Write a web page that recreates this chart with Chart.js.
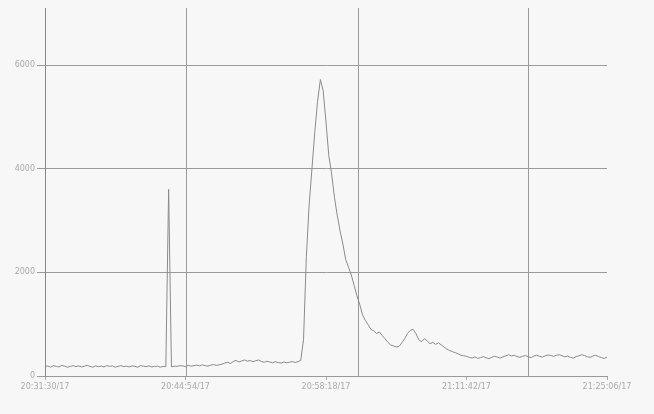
<!DOCTYPE html>
<html>
<head>
<meta charset="utf-8">
<script src="https://cdn.jsdelivr.net/npm/chart.js@4.4.1/dist/chart.umd.min.js"></script>
<style>
  html, body { margin: 0; padding: 0; background: #f7f7f7; }
  #wrap { width: 654px; height: 414px; }
</style>
</head>
<body>
<div id="wrap"><canvas id="trace"></canvas></div>
<script>
// sample index -> reading
const values = [
  180,195,170,200,185,175,205,190,170,185,
  200,180,195,175,190,205,185,170,195,180,
  190,175,200,185,195,170,185,200,180,190,
  175,195,185,170,200,190,180,195,175,185,
  190,170,185,180,
  3600,
  175,190,185,200,195,180,205,190,200,210,
  195,215,200,190,210,220,205,215,230,250,
  265,240,280,300,270,290,310,285,300,275,
  295,310,280,265,285,270,255,275,260,250,
  270,255,265,280,260,275,
  300,700,2300,3300,4000,4700,5300,5720,5500,4900,
  4250,3900,3450,3100,2800,2550,2250,2100,1950,1750,
  1550,1380,1180,1070,990,900,870,820,850,780,
  720,650,600,580,560,570,640,720,820,880,
  900,820,700,660,720,680,620,650,610,640,
  600,560,520,490,470,450,430,400,390,380,
  360,345,370,340,355,375,350,335,360,380,
  365,345,370,390,410,385,400,375,360,380,
  395,370,355,385,400,380,365,390,405,395,
  380,400,410,390,370,385,360,345,375,390,
  410,395,370,360,385,400,375,355,340,365
];

const xLabels = ["20:31:30/17", "20:44:54/17", "20:58:18/17", "21:11:42/17", "21:25:06/17"];
const xLabelPos = [0, 50, 100, 150, 200];
const gridX = [50.5, 111.4, 172.2];
const yTicks = [0, 2000, 4000, 6000];

const points = values.map((v, i) => ({ x: i, y: v }));

const ctx = document.getElementById('trace').getContext('2d');
new Chart(ctx, {
  type: 'line',
  data: {
    datasets: [{
      data: points,
      borderColor: '#8a8a8a',
      borderWidth: 1,
      pointRadius: 0,
      tension: 0,
      fill: false
    }]
  },
  options: {
    responsive: true,
    maintainAspectRatio: false,
    animation: false,
    layout: { padding: { left: 5, right: 47, top: 8, bottom: 6 } },
    plugins: { legend: { display: false }, tooltip: { enabled: false } },
    scales: {
      x: {
        type: 'linear',
        min: 0,
        max: 200,
        afterBuildTicks: s => { s.ticks = xLabelPos.map(v => ({ value: v })); },
        afterFit: s => { s.height = 32; },
        grid: { drawOnChartArea: false, drawTicks: true, tickLength: 4, color: '#aaa' },
        border: { display: true, color: '#999' },
        ticks: {
          autoSkip: false,
          maxRotation: 0,
          padding: 2,
          color: '#aaa',
          font: { family: 'DejaVu Sans', size: 8 },
          callback: v => xLabels[xLabelPos.indexOf(v)]
        }
      },
      xg: {
        type: 'linear',
        position: 'bottom',
        min: 0,
        max: 200,
        afterBuildTicks: s => { s.ticks = gridX.map(v => ({ value: v })); },
        afterFit: s => { s.height = 0; },
        grid: { color: '#9a9a9a', drawTicks: false },
        border: { display: false },
        ticks: { display: false }
      },
      y: {
        min: 0,
        max: 7100,
        afterBuildTicks: s => { s.ticks = yTicks.map(v => ({ value: v })); },
        afterFit: s => { s.width = 40; },
        grid: { color: '#9a9a9a', tickLength: 8 },
        border: { display: true, color: '#888' },
        ticks: {
          padding: 2,
          color: '#aaa',
          font: { family: 'DejaVu Sans', size: 8 },
          callback: v => String(v)
        }
      }
    }
  }
});
</script>
</body>
</html>
